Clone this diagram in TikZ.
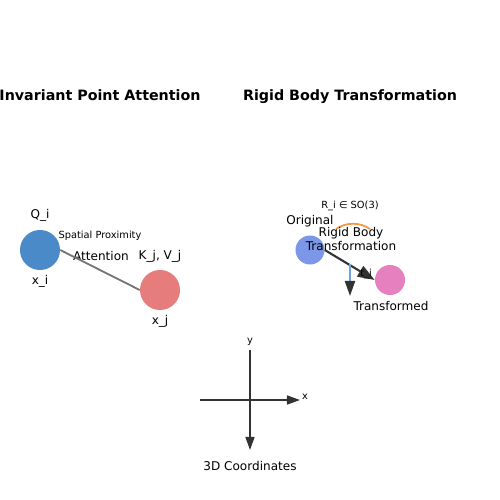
\documentclass[tikz,border=0pt]{standalone}
\usepackage{fontspec}
\setmainfont{DejaVu Sans}
\usetikzlibrary{arrows.meta}
\definecolor{qblue}{HTML}{4A8AC9}
\definecolor{kred}{HTML}{E67C7C}
\definecolor{origblue}{HTML}{7C96E8}
\definecolor{transpink}{HTML}{E680BF}
\definecolor{rotorange}{HTML}{EE9A4A}
\definecolor{transblue}{HTML}{6FA3D8}
\definecolor{axisgray}{HTML}{333333}
\tikzset{atom/.style={circle,minimum size=0.4in,inner sep=0pt},
  ttl/.style={font=\fontsize{10.3}{12}\selectfont\bfseries,inner sep=0pt,anchor=base},
  lbl/.style={font=\fontsize{8.7}{10.5}\selectfont,inner sep=0pt},
  sml/.style={font=\fontsize{7.1}{8}\selectfont,inner sep=0pt}}

\begin{document}
\begin{tikzpicture}[x=0.01in,y=-0.01in,>=Stealth]
  \useasboundingbox (0,0) rectangle (500,500);
  % titles
  \node[ttl] (T1) at (100,100.5) {Invariant Point Attention};
  \node[ttl] (T2) at (350,100.5) {Rigid Body Transformation};

  % attention panel
  \node[atom,fill=qblue] (Q) at (40,250) {};
  \node[atom,fill=kred] (K) at (160,290) {};
  \node[lbl] (Qt) at (40,215) {Q\_i};
  \node[lbl] (Qx) at (40,281) {x\_i};
  \node[lbl] (Kt) at (160,256) {K\_j, V\_j};
  \node[lbl] (Kx) at (160,321) {x\_j};
  \node[sml] (SP) at (100,236) {Spatial Proximity};
  \node[lbl] (AT) at (101,256) {Attention};
  \draw[gray!90!black,line width=1.3pt] (Q.east) -- (K.west);

  % transformation panel
  \node[atom,fill=origblue,minimum size=0.29in] (O) at (310,250) {};
  \node[atom,fill=transpink,minimum size=0.3in] (P) at (390,280) {};
  \node[lbl] (Ot) at (310,221) {Original};
  \node[lbl] (Pt) at (391,306) {Transformed};
  \node[sml] (Rt) at (350,206) {R\_i ∈ SO(3)};
  \coordinate (A0) at (336,229);
  \coordinate (A1) at (370,229);
  \draw[rotorange,line width=1.3pt] (A0) .. controls (346,222) and (360,222) .. (A1);
  \draw[axisgray,line width=1.5pt,-{Triangle[length=0.17in,width=0.12in]}] (O.east) -- (P.west);
  \coordinate (t0) at (350,264);
  \coordinate (t1) at (350,296);
  \draw[transblue,line width=1.5pt,-{Triangle[length=0.15in,width=0.1in,color=axisgray]}] (t0) -- (t1);
  \node[sml] (tt) at (366,274) {t\_i};
  \node[lbl,align=center] (RB) at (351,239) {Rigid Body\\Transformation};

  % coordinate axes
  \coordinate (X0) at (200,400);
  \coordinate (X1) at (300,400);
  \coordinate (Y0) at (250,350);
  \coordinate (Y1) at (250,450);
  \draw[axisgray,line width=1.1pt,-{Triangle[length=0.13in,width=0.09in]}] (X0) -- (X1);
  \draw[axisgray,line width=1.1pt,-{Triangle[length=0.13in,width=0.09in]}] (Y0) -- (Y1);
  \node[sml] (xl) at (305,397) {x};
  \node[sml] (yl) at (250,342) {y};
  \node[lbl] (CL) at (250,466) {3D Coordinates};
\end{tikzpicture}
\end{document}
